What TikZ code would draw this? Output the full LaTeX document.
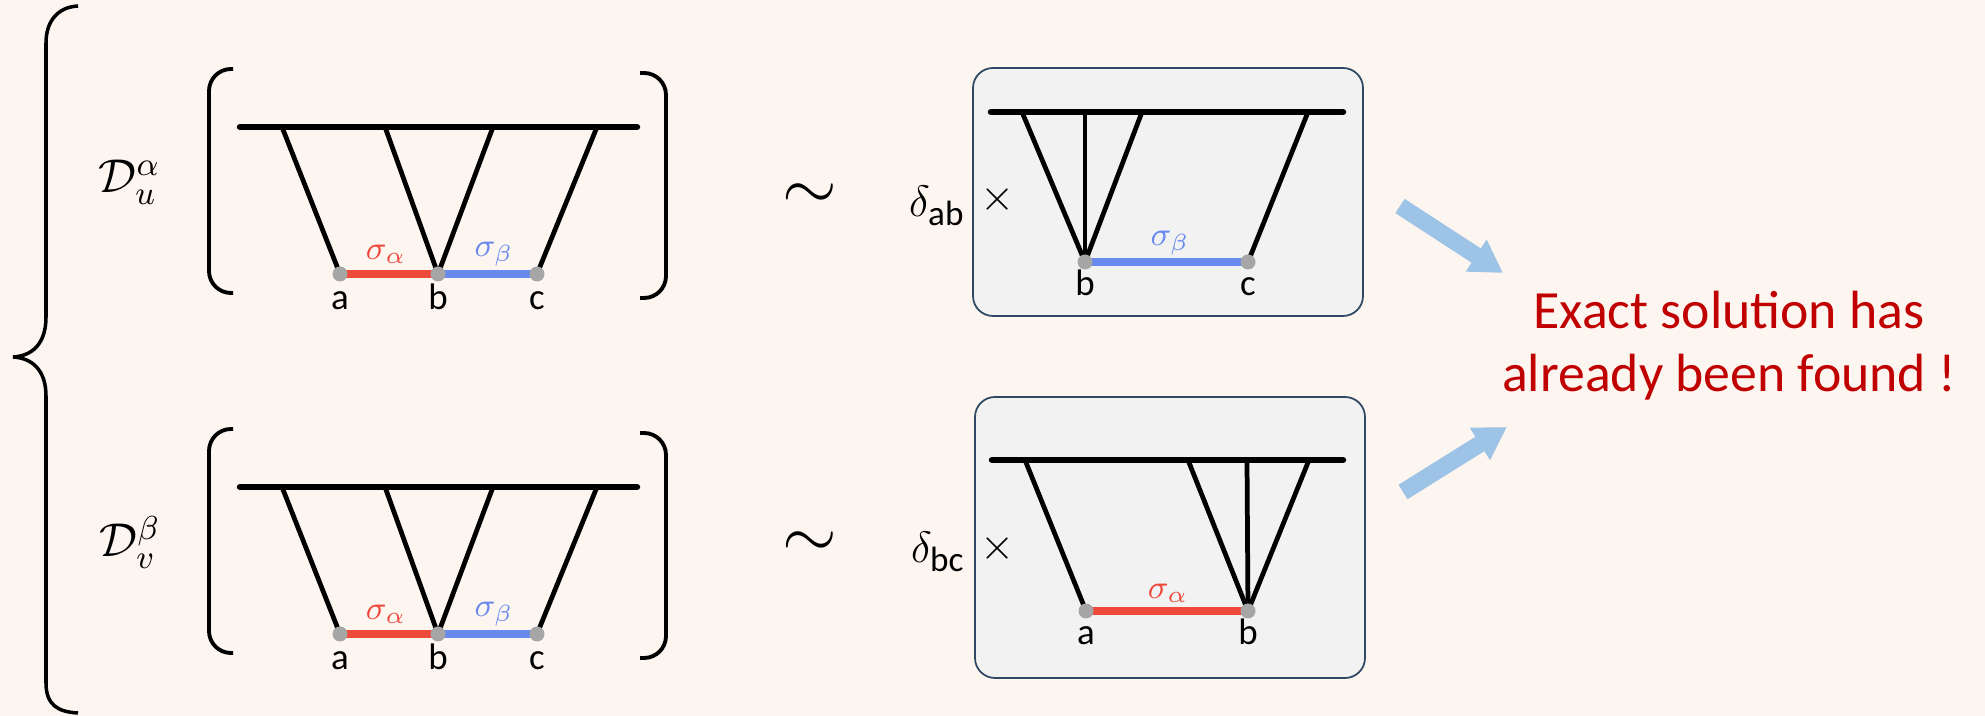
\documentclass[tikz,border=0pt]{standalone}
\usepackage{fix-cm}
\usepackage{amsmath}
\usepackage{fontspec}
\newfontfamily\calfont{Carlito}
\usepackage{xcolor}
\usepackage{tikz}
\usetikzlibrary{arrows.meta,positioning}
\definecolor{bgpeach} {RGB}{253,246,240}
\definecolor{boxgray} {RGB}{242,242,242}
\definecolor{boxedge} {RGB}{47,72,100}
\definecolor{sigred}  {RGB}{238,74,60}
\definecolor{sigblue} {RGB}{104,138,238}
\definecolor{dotgray} {RGB}{166,166,166}
\definecolor{arrblue} {RGB}{157,195,230}
\definecolor{textred} {RGB}{192,0,0}
\newcommand{\subtxt}[1]{\mbox{\calfont\fontsize{10}{12}\selectfont #1}}
\tikzset{
  % Lines of the diagrams
  topbar/.style ={line width=1.85pt, line cap=round},
  leg/.style    ={line width=1.35pt},
  segred/.style ={line width=2.1pt, draw=sigred},
  segblue/.style={line width=2.1pt, draw=sigblue},
  % End points and their labels
  endpt/.style  ={circle, fill=dotgray, minimum size=0.15cm, inner sep=0pt},
  ptlbl/.style  ={anchor=base, inner sep=0pt,
                  font=\calfont\fontsize{10.5}{12}\selectfont},
  sig/.style    ={inner sep=0pt, font=\fontsize{9.5}{11}\selectfont},
  % Brackets, braces, boxes
  brk/.style    ={line width=1.1pt, rounded corners=0.22cm},
  gbox/.style   ={draw=boxedge, line width=0.5pt, fill=boxgray,
                  rounded corners=0.2cm},
  % Big arrows
  bigarr/.style ={-{Triangle[length=0.32cm,width=0.36cm]},
                  line width=0.17cm, draw=arrblue},
}

\begin{document}
\begin{tikzpicture}[x=1cm,y=1cm]

    \fill[bgpeach] (0,0) rectangle (19.85,7.16);

    %% ── Big brace ──────────────────────────────────────────
    \draw[line width=1.0pt]
         (0.78,7.10) .. controls (0.58,7.09) and (0.46,6.95) .. (0.46,6.73)
         -- (0.46,3.99) .. controls (0.46,3.72) and (0.32,3.60) .. (0.13,3.59)
         .. controls (0.32,3.58) and (0.46,3.46) .. (0.46,3.20)
         -- (0.46,0.33) .. controls (0.46,0.11) and (0.58,0.04) .. (0.78,0.03);

    %% ── Upper diagram ──────────────────────────────────────
    \node[anchor=base west, inner sep=0pt, font=\fontsize{13.5}{16}\selectfont]
         (Du) at (0.98,5.23) {$\mathcal{D}_u^{\alpha}$};
    \draw[brk] (2.33,6.47) -- (2.09,6.47) -- (2.09,4.23) -- (2.33,4.23);
    \draw[brk] (6.40,6.43) -- (6.66,6.43) -- (6.66,4.18) -- (6.40,4.18);

    \coordinate (uA) at (3.40,4.42);
    \coordinate (uB) at (4.38,4.42);
    \coordinate (uC) at (5.37,4.42);
    \coordinate (u1) at (2.82,5.89);
    \coordinate (u2) at (3.85,5.89);
    \coordinate (u3) at (4.93,5.89);
    \coordinate (u4) at (5.97,5.89);

    \draw[topbar] (2.40,5.89) -- (6.37,5.89);
    \draw[segred]  (uA) -- (uB);
    \draw[segblue] (uB) -- (uC);
    \draw[leg] (u1) -- (uA);
    \draw[leg] (u2) -- (uB);
    \draw[leg] (u3) -- (uB);
    \draw[leg] (u4) -- (uC);
    \node[endpt] at (uA) {};
    \node[endpt] at (uB) {};
    \node[endpt] at (uC) {};
    \node[sig, text=sigred]  at (3.86,4.62) {$\sigma_\alpha$};
    \node[sig, text=sigblue] at (4.94,4.62) {$\sigma_\beta$};
    \node[ptlbl] at ([yshift=-0.36cm]uA) {a};
    \node[ptlbl] at ([yshift=-0.36cm]uB) {b};
    \node[ptlbl] at ([yshift=-0.36cm]uC) {c};

    %% ── Lower diagram ──────────────────────────────────────
    \node[anchor=base west, inner sep=0pt, font=\fontsize{13.5}{16}\selectfont]
         (Dv) at (0.99,1.59) {$\mathcal{D}_v^{\beta}$};
    \draw[brk] (2.33,2.87) -- (2.09,2.87) -- (2.09,0.63) -- (2.33,0.63);
    \draw[brk] (6.40,2.83) -- (6.66,2.83) -- (6.66,0.58) -- (6.40,0.58);

    \coordinate (vA) at (3.40,0.82);
    \coordinate (vB) at (4.38,0.82);
    \coordinate (vC) at (5.37,0.82);
    \coordinate (v1) at (2.82,2.29);
    \coordinate (v2) at (3.85,2.29);
    \coordinate (v3) at (4.93,2.29);
    \coordinate (v4) at (5.97,2.29);

    \draw[topbar] (2.40,2.29) -- (6.37,2.29);
    \draw[segred]  (vA) -- (vB);
    \draw[segblue] (vB) -- (vC);
    \draw[leg] (v1) -- (vA);
    \draw[leg] (v2) -- (vB);
    \draw[leg] (v3) -- (vB);
    \draw[leg] (v4) -- (vC);
    \node[endpt] at (vA) {};
    \node[endpt] at (vB) {};
    \node[endpt] at (vC) {};
    \node[sig, text=sigred]  at (3.86,1.02) {$\sigma_\alpha$};
    \node[sig, text=sigblue] at (4.94,1.02) {$\sigma_\beta$};
    \node[ptlbl] at ([yshift=-0.36cm]vA) {a};
    \node[ptlbl] at ([yshift=-0.36cm]vB) {b};
    \node[ptlbl] at ([yshift=-0.36cm]vC) {c};

    %% ── Tildes ─────────────────────────────────────────────
    \node[font=\fontsize{20}{24}\selectfont] (simU) at (8.10,5.19) {$\sim$};
    \node[font=\fontsize{20}{24}\selectfont] (simV) at (8.10,1.71) {$\sim$};

    %% ── Upper reduced box ──────────────────────────────────
    \draw[gbox] (9.73,4.00) rectangle (13.63,6.48);
    \node[anchor=east, inner sep=0pt, font=\fontsize{12.5}{14}\selectfont]
         (dab) at (9.66,5.10) {$\delta_{\subtxt{ab}}$};
    \node[font=\fontsize{12.5}{14}\selectfont] (xab) at (9.98,5.16) {$\times$};

    \coordinate (pB) at (10.85,4.54);
    \coordinate (pC) at (12.48,4.54);
    \coordinate (p1) at (10.22,6.04);
    \coordinate (p2) at (10.85,6.04);
    \coordinate (p3) at (11.42,6.04);
    \coordinate (p4) at (13.08,6.04);

    \draw[topbar] (9.91,6.04) -- (13.43,6.04);
    \draw[segblue] (pB) -- (pC);
    \draw[leg] (p1) -- (pB);
    \draw[leg] (p2) -- (pB);
    \draw[leg] (p3) -- (pB);
    \draw[leg] (p4) -- (pC);
    \node[endpt] at (pB) {};
    \node[endpt] at (pC) {};
    \node[sig, text=sigblue] at (11.70,4.73) {$\sigma_\beta$};
    \node[ptlbl] at ([yshift=-0.34cm]pB) {b};
    \node[ptlbl] at ([yshift=-0.34cm]pC) {c};

    %% ── Lower reduced box ──────────────────────────────────
    \draw[gbox] (9.75,0.38) rectangle (13.65,3.19);
    \node[anchor=east, inner sep=0pt, font=\fontsize{12.5}{14}\selectfont]
         (dbc) at (9.66,1.64) {$\delta_{\subtxt{bc}}$};
    \node[font=\fontsize{12.5}{14}\selectfont] (xbc) at (9.98,1.67) {$\times$};

    \coordinate (qA) at (10.86,1.05);
    \coordinate (qB) at (12.48,1.05);
    \coordinate (q1) at (10.25,2.56);
    \coordinate (q2) at (11.88,2.56);
    \coordinate (q3) at (12.47,2.56);
    \coordinate (q4) at (13.09,2.56);

    \draw[topbar] (9.92,2.56) -- (13.43,2.56);
    \draw[segred] (qA) -- (qB);
    \draw[leg] (q1) -- (qA);
    \draw[leg] (q2) -- (qB);
    \draw[leg] (q3) -- (qB);
    \draw[leg] (q4) -- (qB);
    \node[endpt] at (qA) {};
    \node[endpt] at (qB) {};
    \node[sig, text=sigred] at (11.68,1.23) {$\sigma_\alpha$};
    \node[ptlbl] at ([yshift=-0.34cm]qA) {a};
    \node[ptlbl] at ([yshift=-0.34cm]qB) {b};

    %% ── Conclusion ─────────────────────────────────────────
    \node[align=center, text=textred, inner sep=0pt,
          font=\calfont\fontsize{15.3}{17.9}\selectfont]
         (found) at (17.29,3.70) {Exact solution has\\already been found !};

    \coordinate (t1) at (14.00,5.10);
    \coordinate (h1) at (15.03,4.43);
    \coordinate (t2) at (14.03,2.24);
    \coordinate (h2) at (15.07,2.89);
    \draw[bigarr] (t1) -- (h1);
    \draw[bigarr] (t2) -- (h2);

\end{tikzpicture}
\end{document}
